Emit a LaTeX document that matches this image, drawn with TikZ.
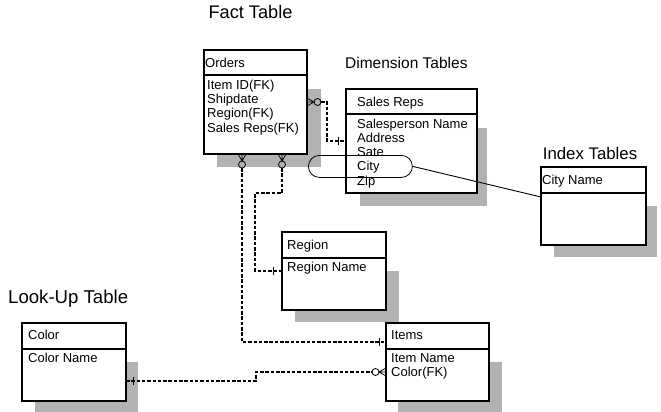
\documentclass[tikz,border=0pt]{standalone}
\usepackage{fontspec}
\setmainfont{Liberation Sans}
\usetikzlibrary{calc}
\definecolor{shadowgray}{RGB}{178,178,178}
\newcommand\crowcirc[2]{%
  \begin{scope}[shift={#1}, rotate=#2]
    \draw[crowmark] (0,4) -- (7,0) -- (0,-4) (0,0) -- (7,0);
    \draw[crowmark] (10.5,0) circle (3.5);
  \end{scope}}
\newcommand\onebar[2]{%
  \begin{scope}[shift={#1}, rotate=#2]
    \draw[crowmark] (0,4) -- (0,-4);
  \end{scope}}
\begin{document}
\begin{tikzpicture}[x=1pt,y=-1pt,
  tbl/.style={draw, fill=white, line width=1.1pt, inner sep=0pt, outer sep=0pt, anchor=north west},
  shd/.style={fill=shadowgray, draw=none, inner sep=0pt, outer sep=0pt, anchor=north west},
  hline/.style={line width=1.1pt},
  ttext/.style={font=\fontsize{13}{14}\selectfont, inner sep=0pt, anchor=base west},
  ttitle/.style={inner sep=0pt, anchor=base west},
  rel/.style={line width=1.4pt, dash pattern=on 3.5pt off 1.8pt},
  crowmark/.style={line width=0.8pt, solid}
]
\useasboundingbox (0,0) rectangle (661,412);

% shadows
\node[shd, minimum width=104pt, minimum height=78pt] (ordersS) at (217,89) {};
\node[shd, minimum width=127pt, minimum height=78pt] (salesS) at (360,128) {};
\node[shd, minimum width=103pt, minimum height=51pt] (indexS) at (554,206) {};
\node[shd, minimum width=104pt, minimum height=51pt] (regionS) at (295,271) {};
\node[shd, minimum width=103pt, minimum height=52pt] (colorS) at (35,362) {};
\node[shd, minimum width=104pt, minimum height=52pt] (itemsS) at (398,362) {};

% boxes
\node[tbl, minimum width=103pt, minimum height=104pt] (orders) at (204,50) {};
\draw[hline] ($(orders.north west)+(0,25)$) -- ($(orders.north east)+(0,25)$);
\node[tbl, minimum width=131pt, minimum height=104pt] (sales) at (346,89) {};
\draw[hline] ($(sales.north west)+(0,25)$) -- ($(sales.north east)+(0,25)$);
\node[tbl, minimum width=105pt, minimum height=78pt] (index) at (541,167) {};
\draw[hline] ($(index.north west)+(0,26)$) -- ($(index.north east)+(0,26)$);
\node[tbl, minimum width=104pt, minimum height=78pt] (region) at (282,232) {};
\draw[hline] ($(region.north west)+(0,26)$) -- ($(region.north east)+(0,26)$);
\node[tbl, minimum width=104pt, minimum height=78pt] (color) at (22,323) {};
\draw[hline] ($(color.north west)+(0,26)$) -- ($(color.north east)+(0,26)$);
\node[tbl, minimum width=103pt, minimum height=78pt] (items) at (386,323) {};
\draw[hline] ($(items.north west)+(0,26)$) -- ($(items.north east)+(0,26)$);

% titles
\node[ttitle, anchor=base, font=\fontsize{18.2}{20}\selectfont] (tFact) at (250.5,19) {Fact Table};
\node[ttitle, font=\fontsize{15.5}{17}\selectfont] (tDim) at (345,69) {Dimension Tables};
\node[ttitle, anchor=base, font=\fontsize{16.8}{18}\selectfont] (tIndex) at (590,159) {Index Tables};
\node[ttitle, font=\fontsize{18.6}{20}\selectfont] (tLook) at (8,303) {Look-Up Table};

% table texts
\node[ttext] (oH) at (205,67.6) {Orders};
\node[ttext] (o1) at (207,89.4) {Item ID(FK)};
\node[ttext] (o2) at (207,103.6) {Shipdate};
\node[ttext] (o3) at (207,117.8) {Region(FK)};
\node[ttext] (o4) at (207,132) {Sales Reps(FK)};

\node[ttext] (sH) at (357,106.3) {Sales Reps};
\node[ttext] (s1) at (357,128) {Salesperson Name};
\node[ttext] (s2) at (357,142.3) {Address};
\node[ttext] (s3) at (357,156.6) {Sate};
\node[ttext] (s4) at (357,170.9) {City};
\node[ttext] (s5) at (357,185.2) {Zip};

\node[ttext] (iH) at (542,184.6) {City Name};

\node[ttext] (rH) at (287,249.6) {Region};
\node[ttext] (r1) at (287,271.8) {Region Name};

\node[ttext] (cH) at (28,339) {Color};
\node[ttext] (c1) at (28,362.6) {Color Name};

\node[ttext] (tH) at (391,339.6) {Items};
\node[ttext] (t1) at (391,362.6) {Item Name};
\node[ttext] (t2) at (391,376.8) {Color(FK)};

% connector: Orders -> Sales Reps
\crowcirc{($(orders.north east)+(0,52)$)}{0}
\draw[rel] ($(orders.north east)+(14,52)$) -- ++(6,0) |- ($(sales.north west)+(0,52)$);
\onebar{($(sales.north west)+(-8,52)$)}{0}

% connector: Orders -> Region
\crowcirc{($(orders.south west)+(78,0)$)}{-90}
\draw[rel] ($(orders.south west)+(78,14)$) -- ++(0,25) -- ++(-27,0) |- ($(region.north west)+(0,39)$);
\onebar{($(region.north west)+(-9,39)$)}{0}

% connector: Orders -> Items
\crowcirc{($(orders.south west)+(38,0)$)}{-90}
\draw[rel] ($(orders.south west)+(38,14)$) |- ($(items.north west)+(0,19)$);
\onebar{($(items.north west)+(-7,19)$)}{0}

% connector: Color -> Items
\onebar{($(color.north east)+(7,58)$)}{0}
\draw[rel] ($(color.north east)+(0,58)$) -- ++(130,0) |- ($(items.north west)+(-14,49)$);
\crowcirc{($(items.north west)+(0,49)$)}{180}

% City pill and index link
\node[draw, line width=0.8pt, rounded corners=11pt, minimum width=104pt, minimum height=22pt, inner sep=0pt, anchor=north west] (pill) at (308,155) {};
\draw[line width=0.9pt] (pill.east) -- ($(index.north west)+(0,30)$);
\end{tikzpicture}
\end{document}
